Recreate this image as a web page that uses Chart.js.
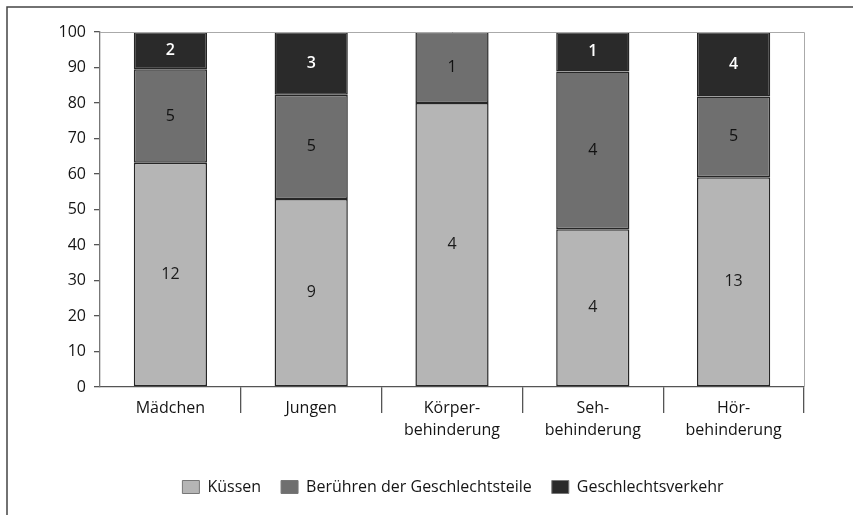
<!DOCTYPE html>
<html>
<head>
<meta charset="utf-8">
<script src="https://cdn.jsdelivr.net/npm/chart.js"></script>
<style>
  html, body { margin: 0; padding: 0; background: #fff; }
  #wrap { width: 853px; height: 515px; }
</style>
</head>
<body>
<div id="wrap"><canvas id="chart" width="853" height="515"></canvas></div>
<script>
// Data (counts shown in the segments, bars stacked to 100 %)
const categories = ["Mädchen", "Jungen", ["Körper-", "behinderung"], ["Seh-", "behinderung"], ["Hör-", "behinderung"]]
const kuessen = [12, 9, 4, 4, 13]
const beruehren = [5, 5, 1, 4, 5]
const verkehr = [2, 3, 0, 1, 4]
const yTicks = [0, 10, 20, 30, 40, 50, 60, 70, 80, 90, 100]

const totals = kuessen.map((v, i) => v + beruehren[i] + verkehr[i])
const pct = (arr) => arr.map((v, i) => (v / totals[i]) * 100)

const font = "'Open Sans', 'Noto Sans', sans-serif"
const textColor = "#151515"

// outer frame lines (top and left) like the scanned figure
const framePlugin = {
  id: "frame",
  afterUpdate(chart) {
    // legend in the original sits centred under the whole figure, not the plot
    const lg = chart.legend
    lg.left += 51
    lg.right += 51
    lg.adjustHitBoxes()
  },
  beforeDraw(chart) {
    const c = chart.ctx
    c.save()
    c.strokeStyle = "#444"
    c.lineWidth = 1.5
    c.beginPath()
    c.moveTo(7, 515)
    c.lineTo(7, 7)
    c.lineTo(853, 7)
    c.stroke()
    c.restore()
  },
  afterDatasetsDraw(chart) {
    // light top and right border of plot area
    const a = chart.chartArea
    const c = chart.ctx
    c.save()
    c.strokeStyle = "#aaa"
    c.lineWidth = 1
    c.beginPath()
    c.moveTo(a.left, a.top + 0.5)
    c.lineTo(a.right + 0.5, a.top + 0.5)
    c.lineTo(a.right + 0.5, a.bottom)
    c.stroke()
    c.restore()
  }
}

// count labels in the middle of each segment
const countLabels = {
  id: "countLabels",
  afterDatasetsDraw(chart) {
    const c = chart.ctx
    c.save()
    c.textAlign = "center"
    c.textBaseline = "middle"
    chart.data.datasets.forEach((ds, di) => {
      const meta = chart.getDatasetMeta(di)
      meta.data.forEach((bar, i) => {
        const n = ds.counts[i]
        if (!n) return
        const mid = (bar.y + bar.base) / 2
        c.fillStyle = ds.labelColor
        c.font = (di === 2 ? "600 " : "") + "16px " + font
        c.fillText(String(n), bar.x, mid)
      })
    })
    c.restore()
  }
}

new Chart(document.getElementById("chart"), {
  type: "bar",
  data: {
    labels: categories,
    datasets: [
      { label: "Küssen", data: pct(kuessen), counts: kuessen, backgroundColor: "#b5b5b5", labelColor: "#1a1a1a" },
      { label: "Berühren der Geschlechtsteile", data: pct(beruehren), counts: beruehren, backgroundColor: "#6f6f6f", labelColor: "#111" },
      { label: "Geschlechtsverkehr", data: pct(verkehr), counts: verkehr, backgroundColor: "#2a2a2a", labelColor: "#fff" },
    ],
  },
  options: {
    responsive: false,
    animation: false,
    layout: { padding: { top: 32, right: 49, left: 0, bottom: 10 } },
    datasets: {
      bar: {
        borderColor: "#262626",
        borderWidth: 1.5,
        borderSkipped: false,
        categoryPercentage: 1,
        barPercentage: 0.52,
      },
    },
    plugins: {
      legend: {
        position: "bottom",
        labels: {
          font: { family: font, size: 16 },
          color: textColor,
          boxWidth: 17,
          boxHeight: 13,
          padding: 20,
          generateLabels(chart) {
            return chart.data.datasets.map((ds, i) => ({
              text: ds.label,
              fillStyle: ds.backgroundColor,
              strokeStyle: "#777",
              lineWidth: 1,
              datasetIndex: i,
              fontColor: textColor,
            }))
          },
        },
      },
      tooltip: { enabled: false },
    },
    scales: {
      x: {
        stacked: true,
        grid: {
          offset: true,
          drawOnChartArea: false,
          tickLength: 26,
          color: (ctx) => (ctx.index === 0 ? "rgba(0,0,0,0)" : "#555"),
          lineWidth: 1.3,
        },
        border: { color: "#555", width: 1.3 },
        ticks: {
          padding: -16,
          font: { family: font, size: 16, lineHeight: 1.4 },
          color: textColor,
          maxRotation: 0,
          autoSkip: false,
        },
        afterFit(scale) { scale.height = 72 },
      },
      y: {
        stacked: true,
        min: 0,
        max: 100,
        afterBuildTicks(scale) { scale.ticks = yTicks.map((v) => ({ value: v })) },
        grid: { drawOnChartArea: false, tickLength: 6, color: "#555", lineWidth: 1.3 },
        border: { color: "#777", width: 1.3 },
        ticks: {
          padding: 8,
          font: { family: font, size: 16 },
          color: textColor,
        },
        afterFit(scale) { scale.width = 100 },
      },
    },
  },
  plugins: [framePlugin, countLabels],
})
</script>
</body>
</html>
